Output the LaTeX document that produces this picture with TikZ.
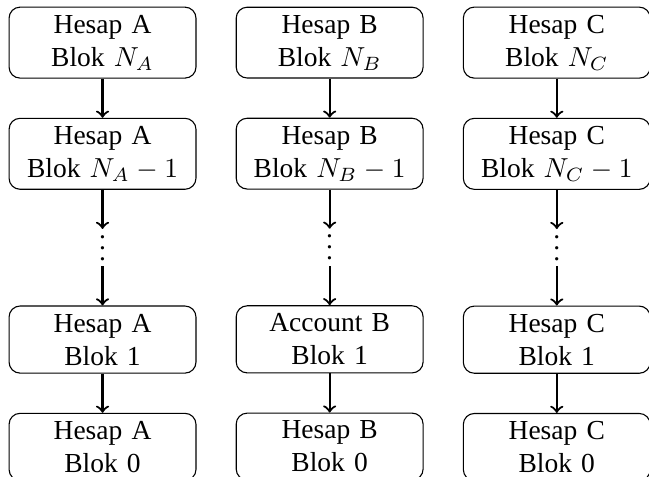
\documentclass[tikz,border=0pt]{standalone}
\usepackage{fontspec}
\setmainfont{Liberation Serif}
\usetikzlibrary{positioning,calc}

\begin{document}
\begin{tikzpicture}[
        node distance=0.5cm,
        blok/.style={draw, rounded corners, text width=61.3pt, inner ysep=2.85pt, align=center},
        skipdots/.style={inner sep=2.1pt, text height=9pt, text depth=0pt},
        link/.style={->, thick}
        ]
        % Account A chain
        \node[blok] (aN)                      {Hesap A\\Blok $N_A$};
        \node[blok] (aN1)   [below=of aN]     {Hesap A\\Blok $N_A-1$};
        \node[skipdots] (adots) [below=of aN1] {$\vdots$};
        \node[blok] (a1)    [below=of adots]  {Hesap A\\Blok 1};
        \node[blok] (a0)    [below=of a1]     {Hesap A\\Blok 0};

        % Account B chain
        \node[blok] (bN)    [right=of aN]     {Hesap B\\Blok $N_B$};
        \node[blok] (bN1)   [below=of bN]     {Hesap B\\Blok $N_B-1$};
        \node[skipdots] (bdots) [below=of bN1] {$\vdots$};
        \node[blok] (b1)    [below=of bdots]  {Account B\\Blok 1};
        \node[blok] (b0)    [below=of b1]     {Hesap B\\Blok 0};

        % Account C chain
        \node[blok] (cN)    [right=of bN]     {Hesap C\\Blok $N_C$};
        \node[blok] (cN1)   [below=of cN]     {Hesap C\\Blok $N_C-1$};
        \node[skipdots] (cdots) [below=of cN1] {$\vdots$};
        \node[blok] (c1)    [below=of cdots]  {Hesap C\\Blok 1};
        \node[blok] (c0)    [below=of c1]     {Hesap C\\Blok 0};

        % Links down each chain
        \foreach \col in {a,b,c}{
          \draw[link] (\col N)    -- (\col N1);
          \draw[link] (\col N1)   -- (\col dots);
          \draw[link] (\col dots) -- (\col 1);
          \draw[link] (\col 1)    -- (\col 0);
        }

        % fixed frame, trims the bottom edge
        \pgfresetboundingbox
        \useasboundingbox ($(aN.north west)+(-3.1pt,2.4pt)$) rectangle ++(236pt,-173.1pt);
      \end{tikzpicture}
\end{document}
